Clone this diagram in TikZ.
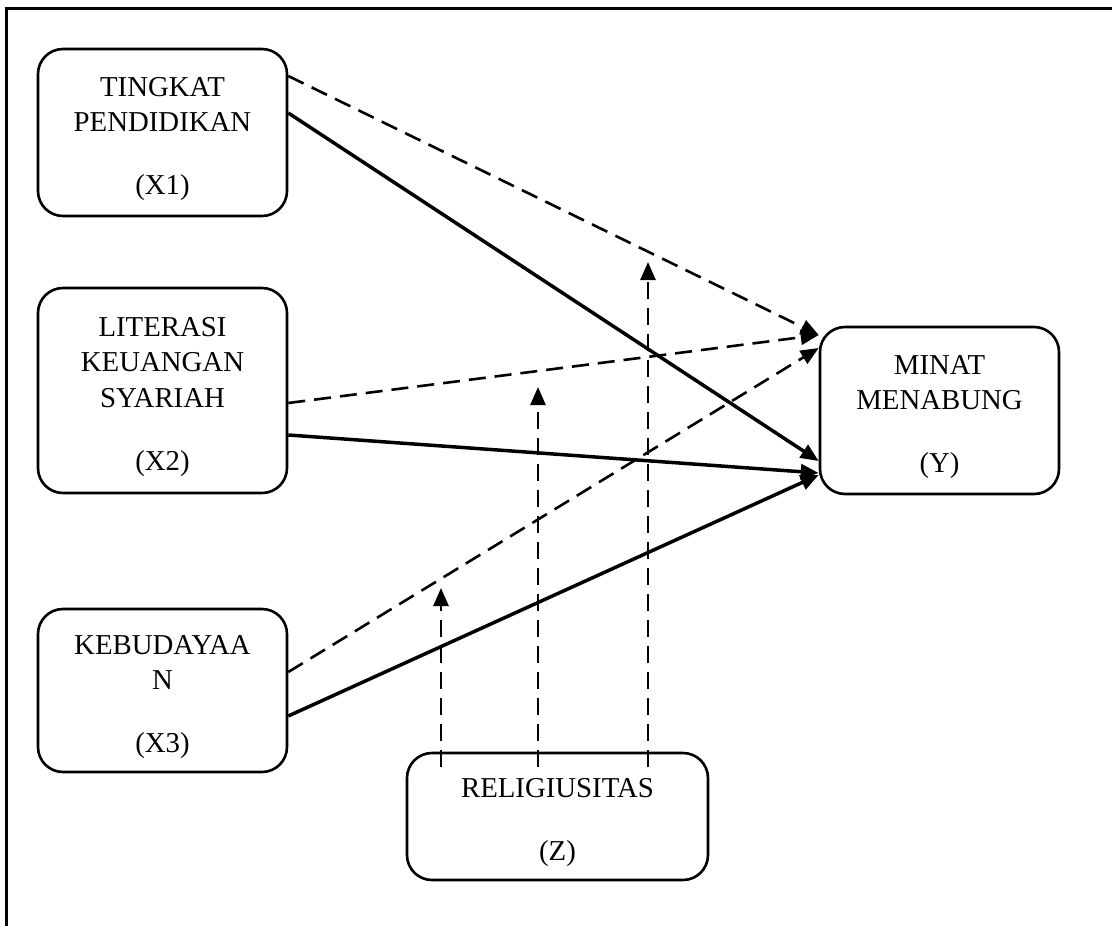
\documentclass[tikz,border=0pt]{standalone}
\usepackage{fontspec}
\setmainfont{Liberation Serif}
\usetikzlibrary{arrows.meta}
\newcommand{\topstrut}{\rule{0pt}{32pt}}
\begin{document}
\begin{tikzpicture}[x=1pt,y=-1pt,
  box/.style={draw,line width=2.6pt,rounded corners=25pt,align=center,
    font=\fontsize{28.8}{35.5}\selectfont,inner sep=0pt},
  solidarr/.style={line width=3.5pt,-{Triangle[length=18pt,width=15pt]}},
  dasharr/.style={line width=2.6pt,dash pattern=on 17pt off 9pt,-{Triangle[length=18pt,width=15pt]}}]
\useasboundingbox (0,0) rectangle (1112,926);
\draw[line width=3pt,line join=miter] (6.5,926) -- (6.5,8) -- (1112,8);
\node[box,minimum width=249pt,minimum height=167pt] (x1) at (162.5,132.5) {\topstrut TINGKAT\\PENDIDIKAN\\[27.5pt](X1)};
\node[box,minimum width=249pt,minimum height=205pt] (x2) at (162.5,390.5) {\topstrut LITERASI\\KEUANGAN\\SYARIAH\\[27.5pt](X2)};
\node[box,minimum width=249pt,minimum height=163pt] (x3) at (162.5,690.5) {\topstrut KEBUDAYAA\\N\\[27.5pt](X3)};
\node[box,minimum width=239pt,minimum height=167pt] (y) at (939.5,410.5) {\topstrut MINAT\\MENABUNG\\[27.5pt](Y)};
\node[box,minimum width=301pt,minimum height=127pt] (z) at (557.5,816.5) {\topstrut RELIGIUSITAS\\[27.5pt](Z)};
\coordinate (t1) at (441,588);
\coordinate (t2) at (538,387);
\coordinate (t3) at (648,262);
% dashed moderation paths
\draw[dasharr] ([yshift=56.5pt]x1.east) -- ([yshift=75.5pt]y.west);
\draw[dasharr] ([yshift=-12.5pt]x2.east) -- ([yshift=75.5pt]y.west);
\draw[dasharr] ([yshift=18.5pt]x3.east) -- ([yshift=62.5pt]y.west);
% solid direct paths
\draw[solidarr] ([yshift=19.5pt]x1.east) -- ([yshift=-50.5pt]y.west);
\draw[solidarr] ([yshift=-44.5pt]x2.east) -- ([yshift=-62.5pt]y.west);
\draw[solidarr] ([yshift=-25.5pt]x3.east) -- ([yshift=-64.5pt]y.west);
% vertical moderator arrows
\draw[dasharr] ([xshift=-116.5pt,yshift=49.5pt]z.center) -- (t1);
\draw[dasharr] ([xshift=-19.5pt,yshift=49.5pt]z.center) -- (t2);
\draw[dasharr] ([xshift=90.5pt,yshift=49.5pt]z.center) -- (t3);
\end{tikzpicture}
\end{document}
